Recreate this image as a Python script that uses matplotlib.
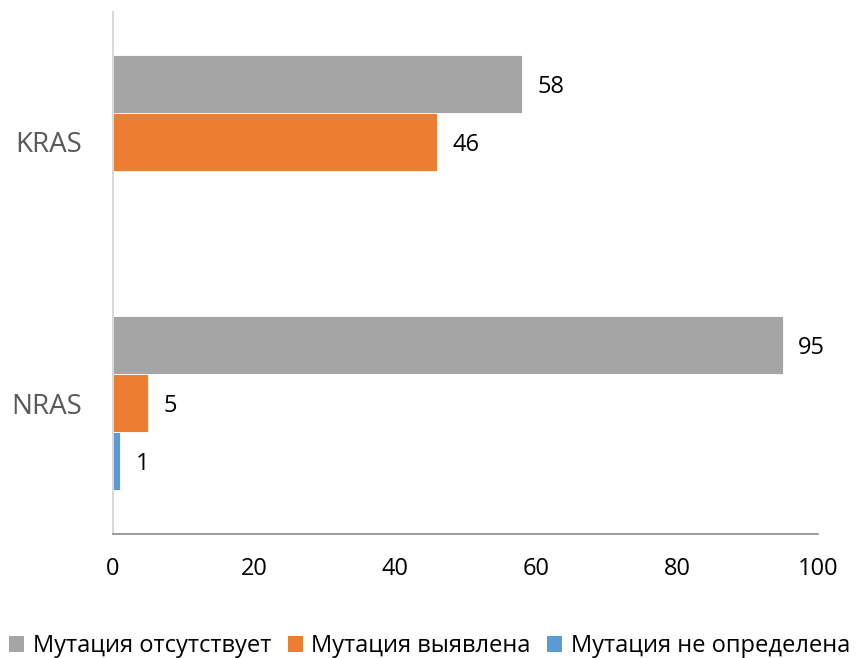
import matplotlib
matplotlib.use('Agg')
import numpy as np
import matplotlib.pyplot as plt
from matplotlib.patches import Patch

plt.rcParams['font.family'] = ['Open Sans', 'DejaVu Sans']

### Data
genes = ['KRAS', 'NRAS']
series_names = ['Мутация отсутствует', 'Мутация выявлена', 'Мутация не определена']
absent = [58, 95]
found = [46, 5]
undefined = [0, 1]
colors = ['#A5A5A5', '#ED7D31', '#5B9BD5']
x_ticks = [0, 20, 40, 60, 80, 100]

fig = plt.figure(figsize=(8.59, 6.58), dpi=100)
ax = fig.add_axes([113 / 859, 1 - 533.5 / 658, 705 / 859, 522 / 658])

pos = np.arange(len(genes))
bar_h = 58 / 261
offsets = [-bar_h, 0, bar_h]

for vals, off, col in zip([absent, found, undefined], offsets, colors):
    for p, v in zip(pos, vals):
        if v == 0:
            continue
        ax.barh(p + off, v, height=bar_h, color=col, edgecolor='white', linewidth=0.6)
        # small nudge down so the labels sit like the original ones
        ax.text(v + 2.2, p + off + 0.012, str(v), va='center', ha='left', fontsize=17, color='black')

ax.set_ylim(1.5, -0.5)
ax.set_xlim(0, 100)
ax.set_xticks(x_ticks)
ax.set_xticklabels([str(t) for t in x_ticks], fontsize=17, color='black')
ax.set_yticks(pos)
ax.set_yticklabels(genes, fontsize=20, color='#595959')
ax.tick_params(axis='x', length=0, pad=17)
ax.tick_params(axis='y', length=0, pad=22)

for s in ['top', 'right']:
    ax.spines[s].set_visible(False)
ax.spines['left'].set_color('#D9D9D9')
ax.spines['left'].set_linewidth(1.5)
ax.spines['bottom'].set_color('#8C8C8C')
ax.spines['bottom'].set_linewidth(1.2)

handles = [Patch(facecolor=c, edgecolor='none') for c in colors]
fig.legend(handles, series_names, loc='center', bbox_to_anchor=(0.5, 1 - 646 / 658),
           ncol=3, frameon=False, fontsize=17, handlelength=0.65, handleheight=0.65,
           handletextpad=0.35, columnspacing=0.7, borderpad=0, borderaxespad=0)

fig.savefig('out.png', dpi=100)
